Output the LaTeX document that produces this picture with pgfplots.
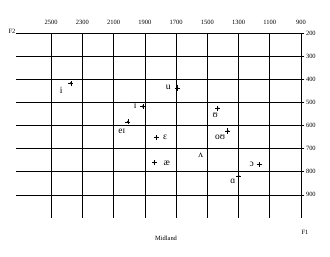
\documentclass[border=0pt]{standalone}
\usepackage{pgfplots}
\pgfplotsset{compat=1.18}
\usepackage{fontspec}
\setmainfont{Liberation Serif}
\pgfdeclareplotmark{plusdot}{%
  \pgfpathmoveto{\pgfqpoint{-\pgfplotmarksize}{0pt}}%
  \pgfpathlineto{\pgfqpoint{\pgfplotmarksize}{0pt}}%
  \pgfpathmoveto{\pgfqpoint{0pt}{-\pgfplotmarksize}}%
  \pgfpathlineto{\pgfqpoint{0pt}{\pgfplotmarksize}}%
  \pgfusepathqstroke
  \pgfpathcircle{\pgfpointorigin}{0.45\pgfplotmarksize}%
  \pgfusepathqfill
}
\begin{document}
\begin{tikzpicture}
\begin{axis}[
  at={(0,0)}, anchor=south west,
  scale only axis, width=281bp, height=185bp,
  xmin=900, xmax=2700, ymin=200, ymax=1000,
  x dir=reverse, y dir=reverse,
  axis line style={draw=none},
  xtick={900,1100,...,2500}, ytick={200,300,...,900},
  xticklabel pos=upper, yticklabel pos=upper,
  grid=major, grid style={black, line width=0.7pt},
  x tick style={draw=none},
  y tick style={black, line width=0.6pt},
  tick align=outside, major tick length=3.5bp,
  xticklabel style={font=\fontsize{6.5}{7}\selectfont, yshift=1bp},
  yticklabel style={font=\fontsize{6.5}{7}\selectfont, xshift=-2bp},
  /pgf/number format/assume math mode=true,
  /pgf/number format/set thousands separator={},
  clip=false,
]
\addplot[only marks, mark=plusdot, mark size=2.6pt, black, mark options={line width=0.6pt}] coordinates {
  (2374,417) (1693,438) (1913,518) (2009,584) (1826,651) (1839,760)
  (1433,526) (1369,624) (1500,700) (1167,768) (1299,819)
};
\node[font=\fontsize{9.5}{10}\selectfont] at (axis cs:2436,446) {i};
\node[font=\fontsize{9.5}{10}\selectfont] at (axis cs:1751,437) {u};
\node[font=\fontsize{9.5}{10}\selectfont] at (axis cs:1962,519) {ɪ};
\node[font=\fontsize{9.5}{10}\selectfont] at (axis cs:2048,625) {eɪ};
\node[font=\fontsize{9.5}{10}\selectfont] at (axis cs:1770,651) {ɛ};
\node[font=\fontsize{9.5}{10}\selectfont] at (axis cs:1760,763) {æ};
\node[font=\fontsize{9.5}{10}\selectfont] at (axis cs:1450,558) {ʊ};
\node[font=\fontsize{9.5}{10}\selectfont] at (axis cs:1418,650) {oʊ};
\node[font=\fontsize{9.5}{10}\selectfont] at (axis cs:1542,730) {ʌ};
\node[font=\fontsize{9.5}{10}\selectfont] at (axis cs:1216,769) {ɔ};
\node[font=\fontsize{9.5}{10}\selectfont] at (axis cs:1337,841) {ɑ};
\end{axis}
\node[font=\fontsize{6.5}{7}\selectfont] at (-8bp,187bp) {F2};
\node[font=\fontsize{6.5}{7}\selectfont] at (285bp,-14bp) {F1};
\node[font=\fontsize{6.5}{7}\selectfont] at (146bp,-20bp) {Midland};
\pgfresetboundingbox
\path[use as bounding box] (-20bp,-39bp) rectangle (310bp,218bp);
\end{tikzpicture}
\end{document}
